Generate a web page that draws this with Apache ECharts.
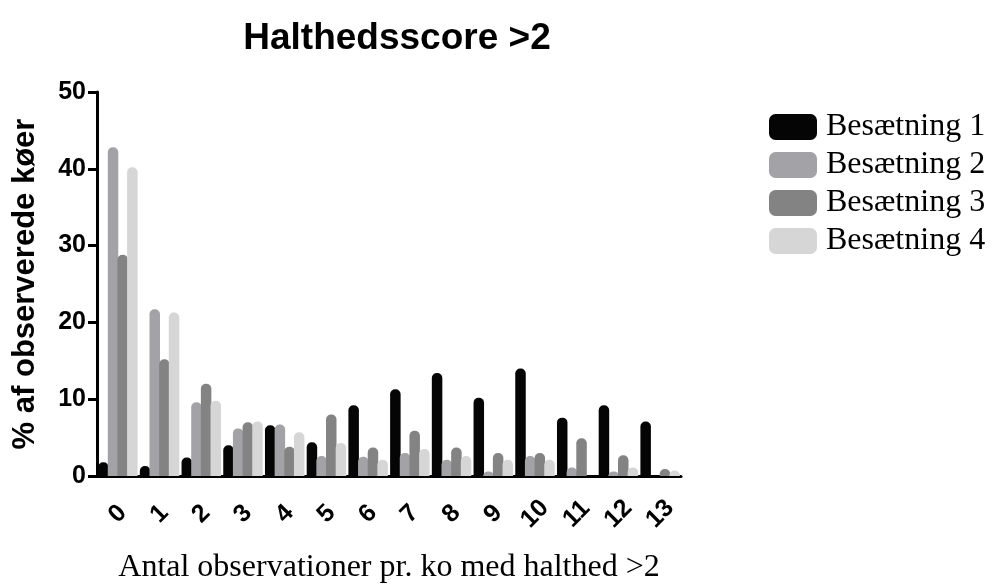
<!DOCTYPE html>
<html>
<head>
	<meta charset="utf-8"/>
	<title>Halthedsscore >2</title>
</head>
<body style="margin: 0; background: #fff;">

	<div id="chart" style="width: 993px; height: 586px;"></div>

	<script src="https://cdn.jsdelivr.net/npm/echarts@6/dist/echarts.min.js"></script>
	<script>

		var categories = ['0', '1', '2', '3', '4', '5', '6', '7', '8', '9', '10', '11', '12', '13'];
		var herd1 = [1.8, 1.3, 2.4, 4.0, 6.6, 4.4, 9.2, 11.3, 13.4, 10.2, 14.0, 7.6, 9.2, 7.1];
		var herd2 = [42.8, 21.7, 9.6, 6.2, 6.7, 2.6, 2.5, 3.0, 2.1, 0.6, 2.6, 1.1, 0.6, 0];
		var herd3 = [28.8, 15.2, 12.0, 7.0, 3.8, 8.0, 3.7, 5.9, 3.7, 3.0, 3.0, 4.9, 2.7, 0.9];
		var herd4 = [40.2, 21.3, 9.8, 7.1, 5.7, 4.3, 2.1, 3.5, 2.6, 2.1, 2.1, 0, 1.1, 0.7];
		var herdNames = ['Besætning 1', 'Besætning 2', 'Besætning 3', 'Besætning 4'];
		var herdColors = ['#050505', '#a3a3a7', '#838383', '#d6d6d6'];

		var oChart = document.getElementById('chart');
		var myChart = echarts.init(oChart);

		function makeSeries (name, data, color) {
			return {
				name: name,
				type: 'bar',
				data: data,
				barWidth: 10.5,
				barGap: '-8%',
				itemStyle: {
					color: color,
					borderRadius: [5, 5, 0, 0]
				}
			};
		}

		var option = {
			animation: false,
			title: {
				text: 'Halthedsscore >2',
				left: 392,
				top: 15,
				textAlign: 'center',
				textStyle: {
					fontFamily: 'Liberation Sans',
					fontSize: 37,
					fontWeight: 'bold',
					color: '#000'
				}
			},
			legend: {
				orient: 'vertical',
				left: 764,
				top: 106,
				itemWidth: 48,
				itemHeight: 26,
				itemGap: 6,
				icon: 'roundRect',
				data: herdNames,
				textStyle: {
					fontFamily: 'Liberation Serif',
					fontSize: 32,
					lineHeight: 32,
					color: '#000',
					padding: [0, 0, 0, 4]
				}
			},
			grid: {
				left: 97,
				right: 312,
				top: 92,
				bottom: 110,
				outerBoundsMode: 'none'
			},
			xAxis: {
				type: 'category',
				data: categories,
				name: 'Antal observationer pr. ko med halthed >2',
				nameLocation: 'middle',
				nameGap: 76,
				nameTextStyle: {
					fontFamily: 'Liberation Serif',
					fontSize: 32,
					color: '#000'
				},
				axisLine: { lineStyle: { color: '#000', width: 3 } },
				axisTick: { alignWithLabel: true, interval: 0, length: 9, lineStyle: { color: '#000', width: 3 } },
				axisLabel: {
					interval: 0,
					rotate: 45,
					align: 'center',
					verticalAlign: 'middle',
					margin: 38,
					fontFamily: 'Liberation Sans',
					fontWeight: 'bold',
					fontSize: 25,
					color: '#000'
				}
			},
			yAxis: {
				type: 'value',
				min: 0,
				max: 50,
				interval: 10,
				name: '% af observerede køer',
				nameLocation: 'middle',
				nameGap: 56,
				nameTextStyle: {
					fontFamily: 'Liberation Sans',
					fontSize: 31,
					fontWeight: 'bold',
					color: '#000'
				},
				splitLine: { show: false },
				axisLine: { show: true, lineStyle: { color: '#000', width: 3 } },
				axisTick: { show: true, length: 9, lineStyle: { color: '#000', width: 3 } },
				axisLabel: {
					margin: 11,
					fontFamily: 'Liberation Sans',
					fontWeight: 'bold',
					fontSize: 25,
					color: '#000'
				}
			},
			series: [
				makeSeries(herdNames[0], herd1, herdColors[0]),
				makeSeries(herdNames[1], herd2, herdColors[1]),
				makeSeries(herdNames[2], herd3, herdColors[2]),
				makeSeries(herdNames[3], herd4, herdColors[3])
			]
		};

		myChart.setOption(option);

	</script>
</body>
</html>
